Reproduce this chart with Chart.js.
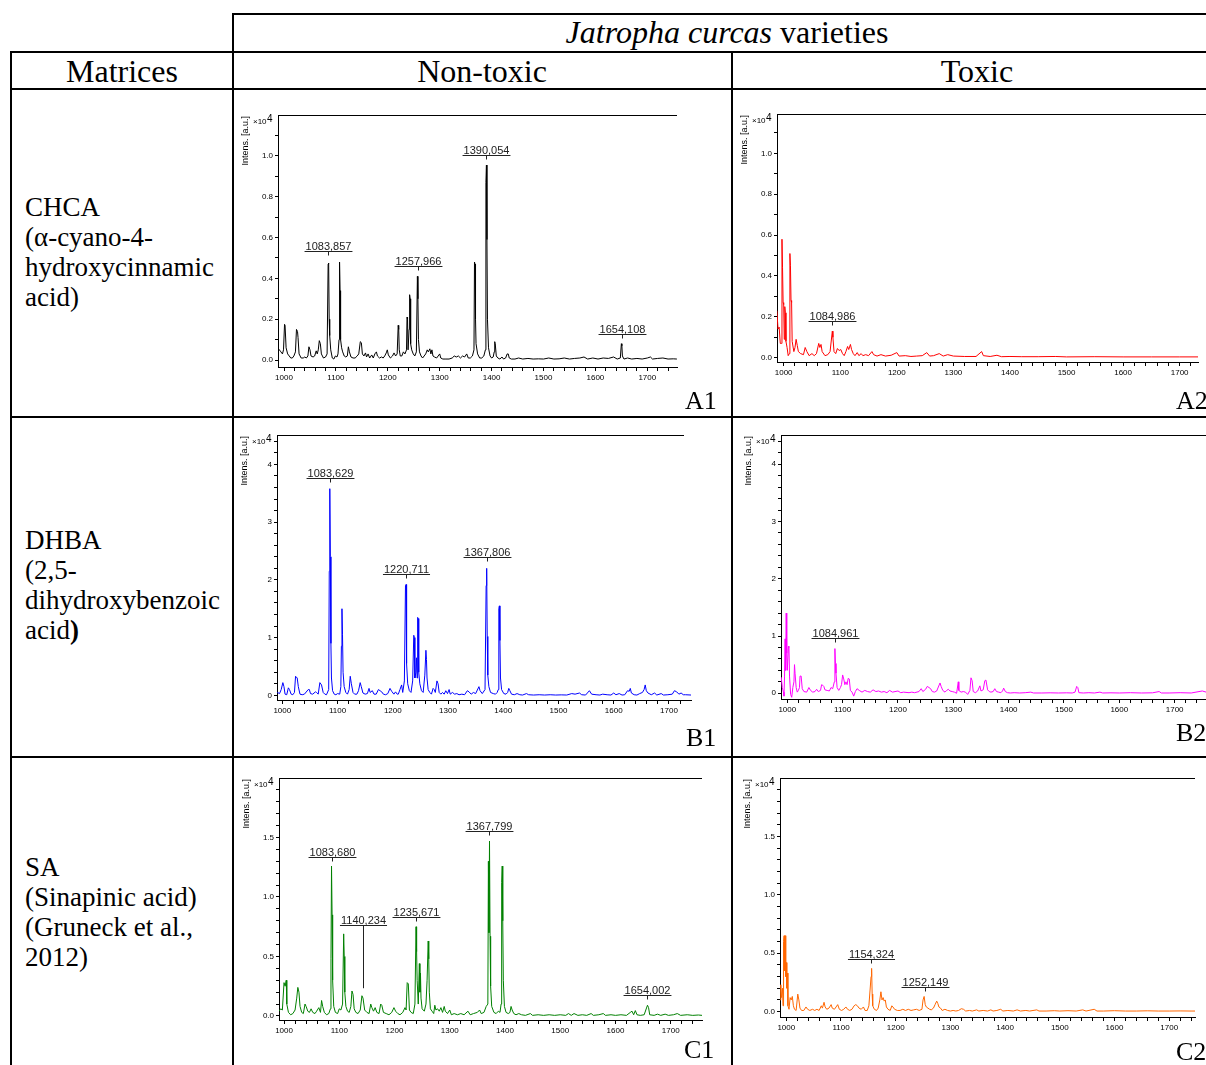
<!DOCTYPE html>
<html>
<head>
<meta charset="utf-8">
<title>Jatropha curcas MALDI spectra</title>
<script src="https://cdn.jsdelivr.net/npm/chart.js@4.4.0/dist/chart.umd.min.js"></script>
<style>
  body { margin: 0; background: #fff; }
  #page {
    position: relative; width: 1206px; height: 1065px; overflow: hidden;
    font-family: "Liberation Serif", "Times New Roman", serif; color: #000;
  }
  .hl { position: absolute; height: 2px; background: #000; z-index: 2; }
  .vl { position: absolute; width: 2px; background: #000; z-index: 2; }
  .head { position: absolute; font-size: 32px; line-height: 32px; white-space: nowrap; text-align: center; }
  .matrix { position: absolute; left: 25px; font-size: 27px; line-height: 30px; white-space: nowrap; }
  .tag { position: absolute; font-size: 26px; line-height: 26px; z-index: 3; }
  canvas { position: absolute; z-index: 1; }
</style>
</head>
<body>
<div id="page">
  <div class="hl" style="left:232px;top:13px;width:974px"></div>
  <div class="hl" style="left:10px;top:51px;width:1196px"></div>
  <div class="hl" style="left:10px;top:88px;width:1196px"></div>
  <div class="hl" style="left:10px;top:416px;width:1196px"></div>
  <div class="hl" style="left:10px;top:756px;width:1196px"></div>
  <div class="vl" style="left:10px;top:51px;height:1014px"></div>
  <div class="vl" style="left:232px;top:13px;height:1052px"></div>
  <div class="vl" style="left:731px;top:51px;height:1014px"></div>

  <div class="head" style="left:233px;width:988px;top:16px"><i>Jatropha curcas</i> varieties</div>
  <div class="head" style="left:11px;width:222px;top:55px">Matrices</div>
  <div class="head" style="left:233px;width:498px;top:55px">Non-toxic</div>
  <div class="head" style="left:733px;width:488px;top:55px">Toxic</div>

  <div class="matrix" style="top:192px">CHCA<br>(α-cyano-4-<br>hydroxycinnamic<br>acid)</div>
  <div class="matrix" style="top:525px">DHBA<br>(2,5-<br>dihydroxybenzoic<br>acid<b>)</b></div>
  <div class="matrix" style="top:852px">SA<br>(Sinapinic acid)<br>(Gruneck et al.,<br>2012)</div>

  <canvas id="a1" width="497" height="326" style="left:234px;top:90px"></canvas>
  <canvas id="a2" width="473" height="326" style="left:733px;top:90px"></canvas>
  <canvas id="b1" width="497" height="338" style="left:234px;top:418px"></canvas>
  <canvas id="b2" width="473" height="338" style="left:733px;top:418px"></canvas>
  <canvas id="c1" width="497" height="307" style="left:234px;top:758px"></canvas>
  <canvas id="c2" width="473" height="307" style="left:733px;top:758px"></canvas>

  <div class="tag" style="left:685px;top:388px">A1</div>
  <div class="tag" style="left:1176px;top:388px">A2</div>
  <div class="tag" style="left:686px;top:725px">B1</div>
  <div class="tag" style="left:1176px;top:720px">B2</div>
  <div class="tag" style="left:684px;top:1037px">C1</div>
  <div class="tag" style="left:1176px;top:1039px">C2</div>
</div>

<script>
// spectra: [m/z, intensity x10^4]
const a1Trace = [[988,0.06],[991,0.05],[994,0.04],[997,0.03],[999,0.05],[1001,0.175],[1002,0.17],[1004,0.06],[1007,0.03],[1010,0.02],[1013,0.01],[1016,0.01],[1019,0.02],[1022,0.04],[1024,0.15],[1026,0.14],[1027,0.11],[1029,0.03],[1033,0.01],[1037,0.01],[1040,0.015],[1043,0.01],[1046,0.02],[1048,0.065],[1050,0.05],[1052,0.02],[1056,0.015],[1059,0.02],[1062,0.045],[1064,0.03],[1066,0.05],[1068,0.095],[1070,0.08],[1072,0.03],[1076,0.01],[1080,0.015],[1083,0.03],[1085,0.47],[1086,0.475],[1087,0.2],[1088,0.12],[1090,0.05],[1093,0.01],[1096,0.005],[1099,0.02],[1102,0.015],[1104,0.03],[1106,0.1],[1107,0.48],[1108,0.34],[1109,0.1],[1111,0.06],[1113,0.04],[1116,0.02],[1119,0.015],[1122,0.02],[1124,0.065],[1126,0.04],[1129,0.015],[1133,0.01],[1137,0.01],[1141,0.02],[1144,0.03],[1147,0.09],[1149,0.085],[1151,0.03],[1154,0.02],[1157,0.035],[1159,0.015],[1162,0.03],[1165,0.01],[1169,0.025],[1172,0.01],[1175,0.03],[1178,0.04],[1180,0.02],[1184,0.01],[1188,0.015],[1191,0.01],[1194,0.02],[1197,0.035],[1199,0.05],[1201,0.025],[1205,0.01],[1209,0.02],[1212,0.035],[1215,0.02],[1218,0.03],[1220,0.17],[1221,0.15],[1222,0.05],[1224,0.02],[1227,0.02],[1230,0.04],[1233,0.03],[1236,0.05],[1237,0.21],[1238,0.2],[1239,0.05],[1241,0.15],[1242,0.32],[1243,0.3],[1244,0.08],[1246,0.05],[1249,0.03],[1252,0.02],[1255,0.04],[1257,0.41],[1258,0.3],[1259,0.1],[1261,0.04],[1264,0.02],[1267,0.01],[1270,0.02],[1273,0.03],[1276,0.05],[1278,0.04],[1281,0.055],[1283,0.03],[1285,0.05],[1287,0.02],[1290,0.015],[1294,0.01],[1297,0.02],[1300,0.03],[1302,0.01],[1306,0.005],[1312,0.005],[1318,0.005],[1324,0.01],[1328,0.02],[1332,0.015],[1336,0.02],[1340,0.01],[1344,0.02],[1348,0.015],[1352,0.03],[1355,0.01],[1359,0.01],[1363,0.02],[1366,0.05],[1367,0.48],[1368,0.47],[1369,0.2],[1370,0.08],[1373,0.03],[1377,0.01],[1381,0.01],[1385,0.02],[1388,0.05],[1389,0.87],[1390,0.955],[1391,0.59],[1392,0.2],[1394,0.06],[1397,0.02],[1400,0.01],[1403,0.015],[1405,0.04],[1406,0.09],[1407,0.08],[1409,0.02],[1412,0.01],[1416,0.005],[1420,0.015],[1423,0.005],[1427,0.01],[1430,0.03],[1432,0.03],[1434,0.01],[1438,0.005],[1445,0.005],[1452,0.01],[1460,0.005],[1470,0.008],[1480,0.005],[1490,0.006],[1500,0.005],[1510,0.01],[1520,0.005],[1530,0.006],[1540,0.01],[1550,0.005],[1560,0.008],[1570,0.01],[1578,0.015],[1585,0.005],[1595,0.01],[1605,0.005],[1615,0.01],[1625,0.008],[1635,0.015],[1642,0.005],[1648,0.01],[1650,0.08],[1651,0.07],[1652,0.02],[1655,0.005],[1662,0.01],[1670,0.005],[1680,0.008],[1690,0.005],[1700,0.01],[1706,0.015],[1710,0.005],[1720,0.008],[1730,0.01],[1740,0.005],[1750,0.006],[1757,0.005]];

const a2Trace = [[988,0.23],[990,0.14],[992,0.15],[994,0.07],[996,0.07],[997,0.58],[998,0.44],[999,0.27],[1000,0.26],[1001,0.09],[1002,0.25],[1003,0.22],[1004,0.08],[1006,0.05],[1008,0.01],[1010,0.02],[1011,0.51],[1012,0.45],[1013,0.28],[1014,0.27],[1015,0.08],[1018,0.03],[1020,0.05],[1022,0.09],[1024,0.06],[1026,0.03],[1030,0.02],[1035,0.015],[1038,0.05],[1041,0.03],[1045,0.01],[1050,0.02],[1054,0.01],[1058,0.02],[1062,0.07],[1064,0.05],[1066,0.065],[1068,0.03],[1073,0.01],[1078,0.015],[1082,0.03],[1086,0.13],[1087,0.1],[1089,0.03],[1092,0.02],[1095,0.045],[1098,0.035],[1101,0.04],[1104,0.02],[1107,0.01],[1110,0.03],[1113,0.055],[1115,0.04],[1118,0.065],[1120,0.04],[1123,0.02],[1126,0.01],[1130,0.025],[1133,0.01],[1137,0.02],[1140,0.01],[1145,0.015],[1150,0.01],[1156,0.03],[1159,0.015],[1165,0.008],[1172,0.015],[1180,0.008],[1190,0.012],[1200,0.025],[1204,0.008],[1215,0.01],[1225,0.006],[1235,0.008],[1245,0.01],[1253,0.025],[1258,0.008],[1265,0.01],[1275,0.02],[1282,0.008],[1290,0.015],[1300,0.008],[1320,0.006],[1340,0.006],[1350,0.03],[1353,0.01],[1365,0.006],[1377,0.012],[1385,0.005],[1400,0.006],[1420,0.005],[1450,0.005],[1480,0.006],[1500,0.004],[1550,0.005],[1600,0.004],[1650,0.004],[1700,0.004],[1733,0.004]];

const b1Trace = [[991,0.05],[995,0.03],[998,0.1],[1001,0.22],[1003,0.15],[1005,0.02],[1008,0.01],[1011,0.13],[1013,0.1],[1016,0.02],[1019,0.01],[1022,0.05],[1024,0.33],[1027,0.3],[1029,0.15],[1032,0.02],[1036,0.01],[1040,0.02],[1047,0.1],[1049,0.1],[1051,0.03],[1055,0.02],[1060,0.06],[1062,0.05],[1065,0.02],[1068,0.22],[1071,0.18],[1074,0.05],[1077,0.02],[1080,0.01],[1084,0.1],[1085,2.15],[1086,3.58],[1087,2.4],[1088,0.9],[1089,0.3],[1091,0.08],[1094,0.02],[1097,0.01],[1100,0.03],[1104,0.02],[1106,0.15],[1107,0.85],[1108,1.5],[1109,1.05],[1110,0.4],[1112,0.15],[1115,0.05],[1118,0.02],[1121,0.1],[1123,0.33],[1125,0.2],[1128,0.05],[1131,0.02],[1135,0.02],[1138,0.08],[1141,0.22],[1143,0.15],[1146,0.04],[1150,0.02],[1154,0.03],[1157,0.12],[1159,0.05],[1163,0.08],[1166,0.02],[1170,0.02],[1174,0.1],[1177,0.08],[1180,0.06],[1183,0.02],[1187,0.01],[1191,0.03],[1195,0.12],[1198,0.07],[1202,0.02],[1205,0.06],[1208,0.02],[1210,0.02],[1213,0.1],[1216,0.18],[1218,0.05],[1221,0.25],[1223,1.9],[1224,1.92],[1225,0.55],[1227,0.2],[1230,0.08],[1233,0.05],[1236,0.25],[1238,1.04],[1239,1.0],[1240,0.3],[1242,0.4],[1243,0.65],[1244,0.3],[1245,1.35],[1246,1.33],[1247,0.4],[1249,0.2],[1252,0.08],[1255,0.05],[1258,0.35],[1260,0.78],[1261,0.62],[1262,0.3],[1264,0.1],[1267,0.05],[1270,0.02],[1273,0.12],[1275,0.1],[1277,0.05],[1280,0.25],[1282,0.2],[1284,0.05],[1287,0.02],[1290,0.05],[1293,0.02],[1296,0.08],[1299,0.03],[1302,0.1],[1304,0.02],[1308,0.05],[1312,0.02],[1316,0.03],[1320,0.01],[1325,0.02],[1330,0.01],[1335,0.08],[1338,0.06],[1342,0.02],[1346,0.05],[1350,0.03],[1356,0.15],[1358,0.08],[1362,0.03],[1367,0.1],[1369,1.9],[1370,2.2],[1371,1.02],[1372,0.35],[1374,0.15],[1377,0.05],[1382,0.03],[1386,0.02],[1389,0.05],[1391,0.1],[1392,1.5],[1393,1.55],[1394,0.95],[1395,0.3],[1397,0.1],[1401,0.03],[1405,0.02],[1408,0.05],[1410,0.12],[1412,0.08],[1415,0.02],[1420,0.01],[1425,0.03],[1430,0.01],[1435,0.005],[1442,0.03],[1446,0.01],[1455,0.005],[1465,0.01],[1475,0.005],[1485,0.01],[1495,0.005],[1505,0.008],[1515,0.005],[1524,0.03],[1530,0.02],[1538,0.04],[1542,0.01],[1549,0.005],[1556,0.08],[1560,0.02],[1568,0.01],[1575,0.005],[1580,0.02],[1588,0.01],[1595,0.005],[1600,0.04],[1604,0.01],[1610,0.03],[1615,0.005],[1620,0.01],[1625,0.08],[1628,0.07],[1630,0.12],[1632,0.04],[1637,0.01],[1642,0.005],[1647,0.03],[1652,0.05],[1655,0.1],[1657,0.18],[1659,0.08],[1662,0.04],[1668,0.01],[1674,0.04],[1678,0.005],[1686,0.03],[1690,0.005],[1698,0.01],[1706,0.02],[1710,0.08],[1714,0.06],[1718,0.02],[1722,0.04],[1726,0.01],[1730,0.01],[1740,0.005]];

const b2Trace = [[989,0.28],[991,0.1],[993,0.02],[994,-0.05],[995,0.3],[996,0.95],[997,0.4],[998,1.4],[999,0.7],[1000,0.4],[1002,0.82],[1003,0.8],[1004,0.3],[1006,-0.02],[1008,-0.07],[1010,0.1],[1012,0.2],[1013,0.5],[1014,0.35],[1016,0.1],[1018,0.02],[1020,0.05],[1022,0.1],[1023,0.3],[1025,0.3],[1027,0.08],[1030,0.03],[1035,0.02],[1039,0.1],[1042,0.05],[1046,0.02],[1050,0.03],[1053,0.07],[1056,0.03],[1060,0.05],[1062,0.15],[1064,0.14],[1066,0.12],[1068,0.06],[1072,0.05],[1076,0.04],[1079,0.1],[1082,0.08],[1085,0.2],[1086,0.78],[1087,0.52],[1088,0.35],[1090,0.1],[1093,0.05],[1096,0.1],[1098,0.15],[1100,0.32],[1102,0.25],[1104,0.15],[1106,0.2],[1108,0.15],[1110,0.26],[1112,0.25],[1114,0.05],[1117,0.02],[1120,-0.05],[1123,0.03],[1126,0.08],[1130,0.05],[1135,0.02],[1140,0.05],[1145,0.03],[1150,0.02],[1155,0.06],[1160,0.03],[1165,0.04],[1170,0.02],[1175,0.03],[1180,0.01],[1185,0.05],[1190,0.02],[1200,0.04],[1205,0.01],[1210,0.02],[1220,0.01],[1225,0.02],[1230,0.01],[1238,0.03],[1242,0.08],[1245,0.03],[1250,0.07],[1253,0.12],[1256,0.1],[1259,0.08],[1262,0.03],[1266,0.02],[1270,0.04],[1276,0.18],[1278,0.12],[1281,0.05],[1285,0.02],[1288,0.05],[1291,0.07],[1294,0.04],[1298,0.03],[1302,0.02],[1306,0.0],[1309,0.2],[1310,0.05],[1314,0.02],[1318,0.03],[1322,0.02],[1326,-0.02],[1330,0.05],[1332,0.27],[1334,0.22],[1336,0.03],[1340,0.01],[1344,0.04],[1348,0.13],[1350,0.04],[1354,0.06],[1357,0.22],[1359,0.23],[1362,0.06],[1365,0.03],[1368,0.02],[1372,0.03],[1375,0.08],[1378,0.03],[1382,0.02],[1386,0.01],[1389,0.04],[1391,0.09],[1394,0.03],[1398,0.01],[1403,0.005],[1410,0.01],[1420,0.005],[1430,0.01],[1440,0.02],[1445,0.005],[1460,0.005],[1475,0.008],[1490,0.005],[1505,0.008],[1515,0.005],[1520,0.02],[1523,0.12],[1525,0.1],[1527,0.01],[1535,0.005],[1545,0.01],[1555,0.005],[1565,0.02],[1570,0.005],[1585,0.008],[1600,0.005],[1620,0.01],[1640,0.005],[1660,0.008],[1672,0.03],[1676,0.005],[1690,0.005],[1710,0.01],[1730,0.005],[1750,0.04],[1757,0.02]];

const c1Trace = [[991,0.04],[994,0.06],[997,0.05],[1000,0.28],[1002,0.25],[1004,0.3],[1005,0.1],[1008,0.03],[1012,0.01],[1016,0.02],[1020,0.05],[1023,0.15],[1025,0.24],[1027,0.2],[1029,0.08],[1032,0.03],[1035,0.02],[1038,0.1],[1040,0.08],[1043,0.04],[1046,0.03],[1049,0.06],[1052,0.03],[1056,0.02],[1059,0.04],[1063,0.07],[1066,0.03],[1068,0.13],[1070,0.08],[1073,0.03],[1077,0.01],[1081,0.02],[1084,0.06],[1085,0.48],[1086,1.26],[1087,0.85],[1088,0.3],[1090,0.08],[1093,0.03],[1097,0.02],[1100,0.06],[1103,0.05],[1106,0.1],[1108,0.69],[1109,0.5],[1110,0.2],[1112,0.08],[1115,0.04],[1118,0.03],[1121,0.08],[1123,0.21],[1125,0.18],[1127,0.06],[1130,0.03],[1134,0.02],[1138,0.05],[1141,0.17],[1143,0.15],[1146,0.05],[1150,0.03],[1154,0.02],[1157,0.1],[1159,0.07],[1162,0.04],[1165,0.07],[1168,0.03],[1172,0.02],[1175,0.1],[1177,0.09],[1180,0.03],[1185,0.02],[1190,0.01],[1195,0.03],[1199,0.07],[1202,0.04],[1206,0.02],[1210,0.01],[1215,0.03],[1219,0.07],[1221,0.05],[1223,0.28],[1225,0.27],[1227,0.05],[1230,0.03],[1234,0.02],[1237,0.1],[1239,0.75],[1240,0.54],[1241,0.3],[1243,0.1],[1245,0.44],[1246,0.2],[1247,0.36],[1248,0.15],[1250,0.06],[1254,0.04],[1257,0.1],[1259,0.3],[1261,0.63],[1262,0.48],[1263,0.2],[1265,0.06],[1268,0.04],[1271,0.02],[1273,0.09],[1275,0.05],[1278,0.06],[1281,0.04],[1284,0.07],[1287,0.03],[1290,0.08],[1292,0.04],[1296,0.02],[1300,0.05],[1303,0.01],[1308,0.02],[1314,0.01],[1320,0.02],[1326,0.01],[1333,0.04],[1337,0.01],[1343,0.02],[1350,0.03],[1354,0.05],[1357,0.02],[1362,0.03],[1366,0.08],[1369,0.1],[1370,1.3],[1371,0.7],[1372,1.47],[1373,0.67],[1374,0.25],[1376,0.08],[1380,0.03],[1384,0.02],[1388,0.04],[1391,0.03],[1393,0.1],[1394,1.12],[1395,1.26],[1396,0.8],[1397,0.3],[1399,0.08],[1402,0.03],[1406,0.02],[1409,0.03],[1411,0.08],[1413,0.05],[1416,0.02],[1420,0.01],[1425,0.02],[1430,0.01],[1437,0.005],[1446,0.02],[1450,0.005],[1460,0.01],[1470,0.005],[1480,0.01],[1490,0.005],[1500,0.01],[1510,0.005],[1515,0.02],[1520,0.005],[1525,0.02],[1532,0.005],[1540,0.01],[1548,0.005],[1556,0.02],[1560,0.005],[1570,0.01],[1578,0.02],[1582,0.005],[1592,0.01],[1600,0.005],[1610,0.01],[1620,0.005],[1627,0.03],[1630,0.04],[1633,0.01],[1636,0.045],[1639,0.01],[1645,0.005],[1652,0.01],[1658,0.09],[1660,0.07],[1662,0.01],[1670,0.005],[1676,0.015],[1682,0.005],[1690,0.015],[1696,0.005],[1705,0.01],[1712,0.02],[1718,0.005],[1730,0.01],[1740,0.005],[1750,0.008],[1757,0.005]];

const c2Trace = [[989,0.1],[990,0.23],[991,0.12],[993,0.2],[994,0.05],[995,0.6],[996,0.65],[997,0.35],[998,0.65],[999,0.3],[1000,0.42],[1001,0.2],[1002,0.33],[1003,0.05],[1005,0.02],[1007,0.12],[1009,0.1],[1011,0.13],[1013,0.05],[1015,0.02],[1018,0.01],[1021,0.15],[1023,0.1],[1025,0.03],[1028,0.01],[1032,0.01],[1036,0.04],[1039,0.02],[1043,0.01],[1048,0.02],[1052,0.01],[1056,0.02],[1060,0.01],[1064,0.05],[1066,0.03],[1069,0.08],[1071,0.04],[1074,0.02],[1078,0.03],[1082,0.06],[1084,0.03],[1088,0.02],[1091,0.04],[1094,0.06],[1097,0.02],[1101,0.01],[1105,0.02],[1109,0.04],[1112,0.02],[1116,0.01],[1120,0.02],[1124,0.05],[1127,0.06],[1130,0.05],[1133,0.03],[1137,0.02],[1141,0.04],[1144,0.01],[1148,0.01],[1151,0.05],[1155,0.3],[1156,0.37],[1157,0.15],[1158,0.05],[1161,0.02],[1165,0.01],[1168,0.03],[1171,0.1],[1173,0.17],[1175,0.1],[1177,0.12],[1179,0.09],[1181,0.1],[1183,0.04],[1186,0.02],[1190,0.01],[1193,0.05],[1195,0.04],[1198,0.02],[1203,0.01],[1208,0.01],[1213,0.02],[1218,0.01],[1223,0.02],[1228,0.01],[1233,0.015],[1238,0.02],[1243,0.01],[1248,0.02],[1250,0.1],[1252,0.13],[1254,0.06],[1256,0.04],[1259,0.03],[1262,0.02],[1265,0.015],[1269,0.03],[1272,0.06],[1275,0.09],[1277,0.07],[1279,0.04],[1282,0.03],[1285,0.01],[1290,0.02],[1295,0.01],[1300,0.005],[1305,0.01],[1310,0.005],[1315,0.01],[1320,0.025],[1324,0.02],[1328,0.005],[1335,0.01],[1340,0.005],[1348,0.015],[1352,0.005],[1360,0.01],[1368,0.005],[1374,0.015],[1378,0.005],[1385,0.01],[1392,0.02],[1396,0.005],[1405,0.01],[1415,0.005],[1422,0.015],[1428,0.005],[1438,0.01],[1445,0.005],[1458,0.015],[1462,0.005],[1475,0.005],[1490,0.008],[1500,0.005],[1515,0.008],[1530,0.005],[1542,0.015],[1548,0.005],[1563,0.02],[1568,0.005],[1580,0.005],[1600,0.008],[1620,0.005],[1640,0.005],[1660,0.007],[1680,0.005],[1700,0.005],[1720,0.006],[1740,0.005],[1750,0.005]];

// peak annotations: [m/z, text, label level, stem end (null = short tick)]
const a1Peaks = [[1085.4,'1083,857',0.533,null],[1258.8,'1257,966',0.459,null],[1389.9,'1390,054',1.005,null],[1650.6,'1654,108',0.13,null]];
const a2Peaks = [[1086,'1084,986',0.18,null]];
const b1Peaks = [[1086.3,'1083,629',3.76,null],[1223.3,'1220,711',2.1,null],[1370,'1367,806',2.39,null]];
const b2Peaks = [[1085.5,'1084,961',0.96,null]];
const c1Peaks = [[1086.3,'1083,680',1.334,null],[1143.6,'1140,234',0.767,0.233],[1239.6,'1235,671',0.829,null],[1371.8,'1367,799',1.553,null],[1657.8,'1654,002',0.177,null]];
const c2Peaks = [[1154.8,'1154,324',0.449,null],[1254.1,'1252,149',0.212,null]];

// axis ranges: [xMin, xMax], [yMin, yMax], y minor step, y labelled step, decimals
const a1Axes = [[988.4, 1757.2], [-0.034, 1.2], 0.1, 0.2, 1];
const a2Axes = [[988.2, 1732.4], [-0.021, 1.193], 0.1, 0.2, 1];
const b1Axes = [[990.4, 1739.9], [-0.081, 4.51], 0.2, 1, 0];
const b2Axes = [[988.6, 1756.7], [-0.1, 4.51], 0.2, 1, 0];
const c1Axes = [[990.9, 1756.7], [-0.034, 2.0], 0.1, 0.5, 1];
const c2Axes = [[988.5, 1747.2], [-0.046, 2.0], 0.1, 0.5, 1];

const SANS = '"Liberation Sans", Arial, sans-serif';

function onStep(v, step) {
  const q = v / step;
  return Math.abs(q - Math.round(q)) < 1e-6;
}

const decor = {
  id: 'decor',
  afterDraw(chart, args, o) {
    const { ctx, chartArea: a, scales: { x, y } } = chart;
    ctx.save();
    ctx.strokeStyle = '#000';
    ctx.lineWidth = 1;
    ctx.beginPath();
    ctx.moveTo(a.left, Math.round(a.top) + 0.5);
    ctx.lineTo(o.topEnd, Math.round(a.top) + 0.5);
    ctx.stroke();

    // y title and exponent
    ctx.fillStyle = '#000';
    ctx.save();
    ctx.translate(a.left - 32, a.top + 1);
    ctx.rotate(-Math.PI / 2);
    ctx.font = '9px ' + SANS;
    ctx.textAlign = 'right';
    ctx.textBaseline = 'middle';
    ctx.fillText('Intens. [a.u.]', 0, 0);
    ctx.restore();
    ctx.textAlign = 'left';
    ctx.textBaseline = 'alphabetic';
    ctx.font = '8px ' + SANS;
    ctx.fillText('×10', a.left - 25, a.top + 9);
    ctx.font = '10px ' + SANS;
    ctx.fillText('4', a.left - 11, a.top + 7);

    // peak labels
    ctx.font = '11px ' + SANS;
    ctx.fillStyle = '#222';
    ctx.strokeStyle = '#222';
    o.peaks.forEach(p => {
      const px = Math.round(x.getPixelForValue(p[0])) + 0.5;
      const py = Math.round(y.getPixelForValue(p[2])) + 0.5;
      const w = ctx.measureText(p[1]).width;
      ctx.textAlign = 'center';
      ctx.fillText(p[1], px, py - 2);
      ctx.beginPath();
      ctx.moveTo(px - w / 2 - 1, py);
      ctx.lineTo(px + w / 2 + 1, py);
      ctx.moveTo(px, py);
      ctx.lineTo(px, p[3] === null ? py + 4 : y.getPixelForValue(p[3]));
      ctx.stroke();
    });
    ctx.restore();
  }
};

function panel(id, trace, peaks, axes, color, box) {
  const cv = document.getElementById(id);
  const W = cv.width, H = cv.height;
  const [xr, yr, yStep, yMajor, dec] = axes;
  new Chart(cv, {
    type: 'line',
    data: {
      datasets: [{
        data: trace.map(p => ({ x: p[0], y: p[1] })),
        borderColor: color,
        borderWidth: 1,
        pointRadius: 0,
        tension: 0,
        fill: false
      }]
    },
    options: {
      responsive: false,
      animation: false,
      devicePixelRatio: 1,
      layout: { padding: { left: 0, top: box.top, right: W - box.right, bottom: 0 } },
      plugins: { legend: { display: false }, tooltip: { enabled: false }, decor: { topEnd: box.topEnd, peaks: peaks } },
      scales: {
        x: {
          type: 'linear', min: xr[0], max: xr[1],
          afterFit: s => { s.height = H - box.bottom; },
          afterBuildTicks: s => { s.ticks = s.ticks.filter(t => onStep(t.value, 20) && t.value > xr[0] && t.value < xr[1]); },
          ticks: {
            stepSize: 20, includeBounds: false, autoSkip: false, maxRotation: 0, padding: 2,
            color: '#000', font: { family: SANS, size: 8 },
            callback: v => (onStep(v, 100) ? String(Math.round(v)) : '')
          },
          grid: { drawOnChartArea: false, drawTicks: true, tickLength: 4, color: '#000' },
          border: { color: '#000', width: 1 }
        },
        y: {
          type: 'linear', min: yr[0], max: yr[1],
          afterFit: s => { s.width = box.left; },
          afterBuildTicks: s => { s.ticks = s.ticks.filter(t => onStep(t.value, yStep) && t.value > yr[0] && t.value < yr[1] - 1e-9); },
          ticks: {
            stepSize: yStep, includeBounds: false, autoSkip: false, padding: 2,
            color: '#000', font: { family: SANS, size: 8 },
            callback: v => (onStep(v, yMajor) ? v.toFixed(dec) : '')
          },
          grid: { drawOnChartArea: false, drawTicks: true, tickLength: 3, color: '#000' },
          border: { color: '#000', width: 1 }
        }
      }
    },
    plugins: [decor]
  });
}

// box: chart area in canvas pixels
panel('a1', a1Trace, a1Peaks, a1Axes, '#000000', { left: 44, top: 25, right: 443, bottom: 277, topEnd: 443 });
panel('a2', a2Trace, a2Peaks, a2Axes, '#ff0000', { left: 44, top: 24, right: 465, bottom: 272, topEnd: 473 });
panel('b1', b1Trace, b1Peaks, b1Axes, '#0000ff', { left: 43, top: 17, right: 457, bottom: 282, topEnd: 450 });
panel('b2', b2Trace, b2Peaks, b2Axes, '#ff00ff', { left: 48, top: 17, right: 473, bottom: 281, topEnd: 473 });
panel('c1', c1Trace, c1Peaks, c1Axes, '#008000', { left: 45, top: 20, right: 468, bottom: 262, topEnd: 468 });
panel('c2', c2Trace, c2Peaks, c2Axes, '#ff6600', { left: 47, top: 20, right: 462, bottom: 259, topEnd: 462 });
</script>
</body>
</html>
